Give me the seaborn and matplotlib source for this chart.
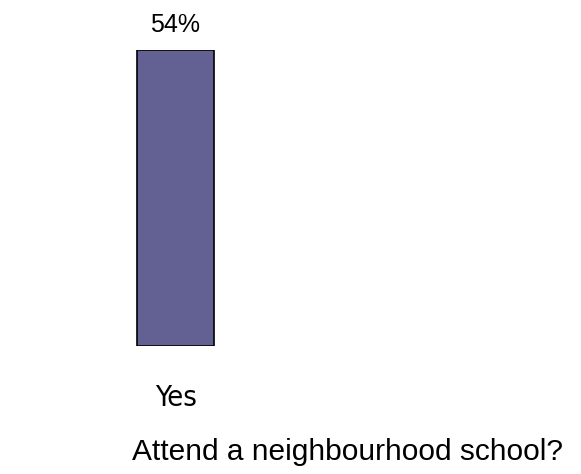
import matplotlib
matplotlib.use("Agg")
import matplotlib.pyplot as plt
import matplotlib.font_manager as fm
import seaborn as sns
import pandas as pd

# Chart data
categories = ["Yes"]
percent = [54]
title = "Attend a neighbourhood school?"

sns.set_theme(style="white")
plt.rcParams["font.family"] = ["Liberation Sans", "DejaVu Sans"]
plt.rcParams["text.color"] = "black"
plt.rcParams["xtick.color"] = "black"

# condensed regular face for the category label if one is installed
narrow = None
for f in fm.fontManager.ttflist:
    is_narrow = ("Narrow" in f.name or "Condensed" in f.name
                 or f.stretch in ("condensed", "semi-condensed"))
    if is_narrow and f.weight in ("normal", "regular", 400) and f.style == "normal":
        narrow = f.fname
        break

df = pd.DataFrame({"answer": categories, "pct": percent})

fig = plt.figure(figsize=(5.81, 4.74), dpi=100)
ax = fig.add_axes([99 / 581, 128 / 474, 153 / 581, 296 / 474])

sns.barplot(data=df, x="answer", y="pct", color="#636094", saturation=1,
            width=0.5, edgecolor="black", linewidth=1.2, ax=ax)

ax.set_ylim(0, max(percent))
for p, v in zip(ax.patches, percent):
    ax.annotate(f"{v}%", (p.get_x() + p.get_width() / 2, p.get_height()),
                xytext=(0, 9), textcoords="offset points",
                ha="center", va="bottom", fontsize=18)

ax.set_xlabel("")
ax.set_ylabel("")
ax.set_yticks([])
ax.tick_params(axis="x", length=0, pad=27)
for lbl in ax.get_xticklabels():
    if narrow:
        lbl.set_fontproperties(fm.FontProperties(fname=narrow, size=21))
    else:
        lbl.set_fontsize(21)
sns.despine(ax=ax, left=True, bottom=True)

fig.text(347 / 581, 1 - 452 / 474, title, ha="center", va="center", fontsize=21.5)

fig.savefig("out.png", dpi=100)
